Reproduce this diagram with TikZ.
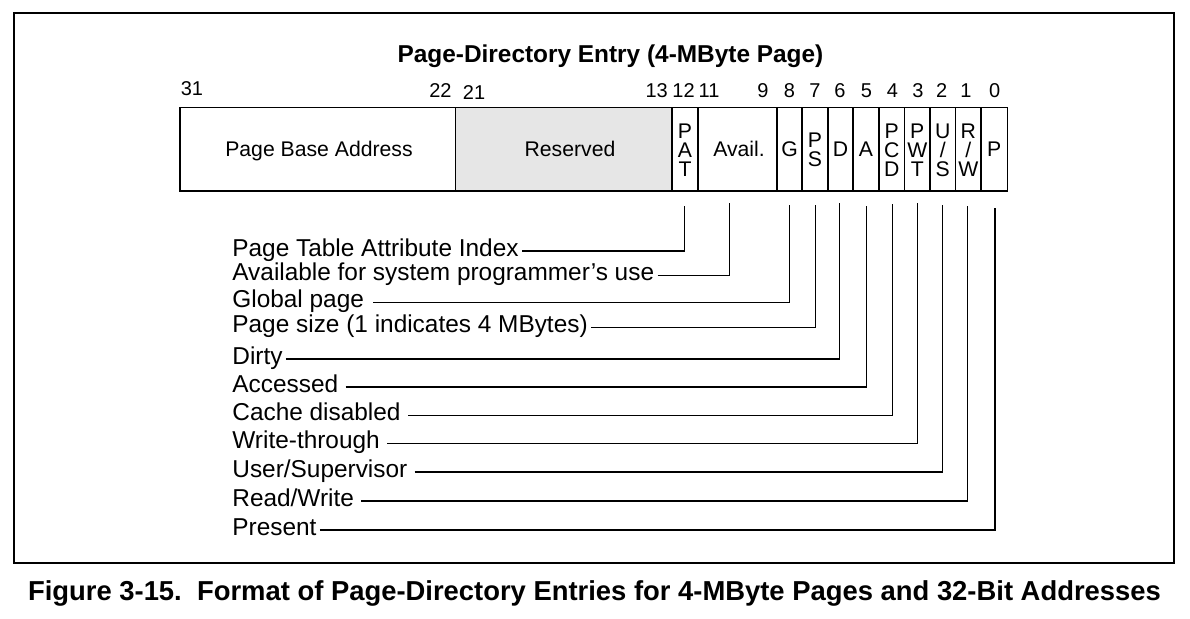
\documentclass[tikz,border=0pt]{standalone}
\usepackage{fontspec}
\setmainfont{Liberation Sans}
\begin{document}
\begin{tikzpicture}[x=0.5pt,y=-0.5pt,
  frame/.style={draw, line width=0.6pt},
  cell/.style={draw, line width=0.6pt, inner sep=0pt, minimum height=41.75pt},
  celltxt/.style={font=\fontsize{10.6}{9.5}\selectfont, align=center, inner sep=0pt},
  oneline/.style={font=\fontsize{10.6}{9.5}\selectfont, inner sep=0pt, text height=7.6pt, text depth=0pt},
  bitnum/.style={font=\fontsize{10}{12}\selectfont, anchor=base, inner sep=0pt},
  lbl/.style={font=\fontsize{12.2}{14}\selectfont, anchor=west, text height=5pt, text depth=0pt, inner xsep=1.5pt, inner ysep=0pt},
  conn/.style={line width=0.6pt}]
\useasboundingbox (0,0) rectangle (1190,618);
\draw[frame] (14,13) rectangle (1174,563);

% title
\node[font=\fontsize{12.2}{14}\selectfont\bfseries, anchor=base, inner sep=0pt] (title) at (610.5,62.5) {Page-Directory Entry (4-MByte Page)};

% bit numbers
\node[bitnum] (b31) at (192,95) {31};
\node[bitnum] (b22) at (440.5,97) {22};
\node[bitnum] (b21) at (474,99) {21};
\node[bitnum] (b13) at (656.7,97) {13};
\node[bitnum] (b12) at (683.5,97) {12};
\node[bitnum] (b11) at (709,97) {11};
\node[bitnum] (b9) at (763,97) {9};
\node[bitnum] (b8) at (789.5,97) {8};
\node[bitnum] (b7) at (815,97) {7};
\node[bitnum] (b6) at (840,97) {6};
\node[bitnum] (b5) at (866.5,97) {5};
\node[bitnum] (b4) at (892.5,97) {4};
\node[bitnum] (b3) at (918,97) {3};
\node[bitnum] (b2) at (941.7,97) {2};
\node[bitnum] (b1) at (966,97) {1};
\node[bitnum] (b0) at (994.6,97) {0};

% cells
\node[cell, minimum width=137.75pt] (cBase) at (317.75,149.25) {};
\node[cell, minimum width=108.25pt, fill={rgb,255:red,230;green,230;blue,230}] (cRes) at (563.75,149.25) {};
\node[cell, minimum width=13pt] (cPAT) at (685,149.25) {};
\node[cell, minimum width=39.5pt] (cAv) at (737.5,149.25) {};
\node[cell, minimum width=12.5pt] (cG) at (789.5,149.25) {};
\node[cell, minimum width=13pt] (cPS) at (815,149.25) {};
\node[cell, minimum width=12.5pt] (cD) at (840.5,149.25) {};
\node[cell, minimum width=13pt] (cA) at (866,149.25) {};
\node[cell, minimum width=12.75pt] (cPCD) at (891.75,149.25) {};
\node[cell, minimum width=12.75pt] (cPWT) at (917.25,149.25) {};
\node[cell, minimum width=12.75pt] (cUS) at (942.75,149.25) {};
\node[cell, minimum width=12.75pt] (cRW) at (968.25,149.25) {};
\node[cell, minimum width=13.25pt] (cP) at (994.25,149.25) {};

% cell texts
\node[oneline] (tBase) at (319,149) {Page Base Address};
\node[oneline] (tRes) at (570,149) {Reserved};
\node[celltxt] (tPATx) at (685,150) {P\\A\\T};
\node[oneline] (tAvx) at (739,149) {Avail.};
\node[oneline] (tGx) at (789.5,149) {G};
\node[celltxt] (tPSx) at (815,150) {P\\S};
\node[oneline] (tDx) at (840.5,149) {D};
\node[oneline] (tAx) at (866,149) {A};
\node[celltxt] (tPCDx) at (891.75,150) {P\\C\\D};
\node[celltxt] (tPWTx) at (917.25,150) {P\\W\\T};
\node[celltxt] (tUSx) at (942.75,150) {U\\/\\S};
\node[celltxt] (tRWx) at (968.25,150) {R\\/\\W};
\node[oneline] (tPx) at (994.25,149) {P};

% connector tops
\coordinate (kPAT) at (684.3,205.7);
\coordinate (kAv) at (729.3,202.7);
\coordinate (kG) at (789.3,205);
\coordinate (kPS) at (815.3,205);
\coordinate (kD) at (839.7,202.7);
\coordinate (kA) at (866.7,206);
\coordinate (kPCD) at (892.3,204);
\coordinate (kPWT) at (917.3,202.7);
\coordinate (kUS) at (942.7,205);
\coordinate (kRW) at (967.3,205.7);
\coordinate (kP) at (995,207.7);

% labels
\node[lbl] (lPAT) at (229,251) {Page Table Attribute Index};
\node[lbl] (lAv) at (229,275.3) {Available for system programmer’s use};
\node[lbl] (lG) at (229,302.7) {Global page};
\node[lbl] (lPS) at (229,327.7) {Page size (1 indicates 4 MBytes)};
\node[lbl] (lD) at (229,359) {Dirty};
\node[lbl] (lA) at (229,387) {Accessed};
\node[lbl] (lPCD) at (229,415.3) {Cache disabled};
\node[lbl] (lPWT) at (229,443.3) {Write-through};
\node[lbl] (lUS) at (229,472) {User/Supervisor};
\node[lbl] (lRW) at (229,501) {Read/Write};
\node[lbl] (lP) at (229,530) {Present};

% connectors
\draw[conn] (lPAT.east) -| (kPAT);
\draw[conn] (lAv.east) -| (kAv);
\draw[conn] ([xshift=3pt]lG.east) -| (kG);
\draw[conn] (lPS.east) -| (kPS);
\draw[conn] (lD.east) -| (kD);
\draw[conn] ([xshift=2pt]lA.east) -| (kA);
\draw[conn] ([xshift=2pt]lPCD.east) -| (kPCD);
\draw[conn] ([xshift=2pt]lPWT.east) -| (kPWT);
\draw[conn] ([xshift=2pt]lUS.east) -| (kUS);
\draw[conn] ([xshift=2pt]lRW.east) -| (kRW);
\draw[conn] (lP.east) -| (kP);

% caption
\node[font=\fontsize{13.7}{16}\selectfont\bfseries, anchor=base, inner sep=0pt] (caption) at (594.5,600) {Figure 3-15.\ \ Format of Page-Directory Entries for 4-MByte Pages and 32-Bit Addresses};
\end{tikzpicture}
\end{document}
